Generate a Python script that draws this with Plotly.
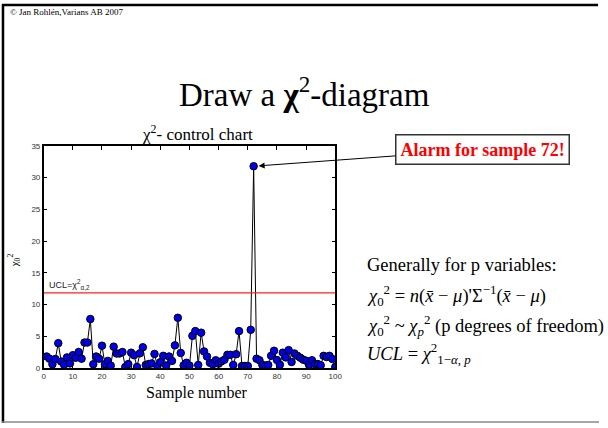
import plotly.graph_objects as go

samples = list(range(1, 101))
chi2_values = [
    1.8, 1.45, 0.57, 1.4, 3.9, 1.0, 0.5, 1.65, 0.7, 2.0,
    1.6, 2.5, 1.45, 4.0, 4.0, 7.7, 0.57, 1.8, 1.45, 3.5,
    0.57, 1.1, 0.36, 3.35, 2.27, 2.27, 2.5, 0.15, 0.6, 2.4,
    2.0, 0.15, 2.3, 3.25, 0.46, 0.6, 0.7, 2.2, 0.26, 0.9,
    1.9, 0.36, 1.8, 1.1, 3.55, 7.9, 2.35, 0.4, 0.8, 0.36,
    5.05, 5.8, 0.46, 5.55, 2.6, 1.8, 0.8, 0.57, 1.2, 0.67,
    1.03, 1.3, 2.06, 2.06, 0.46, 2.16, 5.8, 0.3, 0.3, 0.3,
    6.0, 31.8, 1.45, 1.2, 0.46, 0.36, 0.46, 1.9, 2.7, 1.24,
    0.5, 2.4, 1.65, 2.8, 0.93, 2.27, 1.9, 1.6, 1.3, 1.13,
    0.46, 1.2, 0.6, 0.6, 0.4, 1.9, 1.7, 1.9, 1.4, 0.15,
]
ucl_value = 11.83
alarm_sample = 72
x_ticks = list(range(0, 101, 10))
y_ticks = list(range(0, 36, 5))

W, H = 608, 428
x0, x1 = 42.3, 338.3
ytop, ybot = 145.0, 371.7

fig = go.Figure()
fig.add_trace(go.Scatter(
    x=samples, y=chi2_values, mode="lines+markers",
    line=dict(color="black", width=1),
    marker=dict(color="#0000ee", size=7.5, line=dict(color="black", width=1)),
    showlegend=False, hoverinfo="x+y",
))
fig.add_trace(go.Scatter(
    x=[0, 100], y=[ucl_value, ucl_value], mode="lines",
    line=dict(color="#ff2020", width=1.2), showlegend=False, hoverinfo="skip",
))

tickfont = dict(family="Liberation Sans, Arial", size=8, color="#333333")
fig.update_xaxes(
    domain=[x0 / W, x1 / W], range=[0, 100], tickvals=x_ticks,
    ticks="inside", ticklen=4, tickcolor="black", mirror="ticks",
    showline=True, linecolor="black", linewidth=1.5, showgrid=False,
    zeroline=False, tickfont=tickfont, anchor="y",
)
fig.update_yaxes(
    domain=[(H - ybot) / H, (H - ytop) / H], range=[0, 35], tickvals=y_ticks,
    ticks="inside", ticklen=4, tickcolor="black", mirror="ticks",
    showline=True, linecolor="black", linewidth=1.5, showgrid=False,
    zeroline=False, tickfont=tickfont, anchor="x",
)

serif = "Liberation Serif, Times New Roman, serif"
def px(x):
    return x / W
def py(y):
    return 1 - y / H

pt_x = x0 + (x1 - x0) * alarm_sample / 100
pt_y = ybot - (ybot - ytop) * chi2_values[alarm_sample - 1] / 35
box_cx, box_cy = 484, 149

ann = []
ann.append(dict(x=px(6), y=py(8), xref="paper", yref="paper", xanchor="left", yanchor="middle",
                text="© Jan Rohlén,Varians AB 2007", showarrow=False,
                font=dict(family=serif, size=9, color="black")))
ann.append(dict(x=px(307), y=py(90), xref="paper", yref="paper", xanchor="center", yanchor="middle",
                text="Draw a <b>χ</b><sup>2</sup>-diagram", showarrow=False,
                font=dict(family=serif, size=33, color="black")))
ann.append(dict(x=px(198), y=py(132), xref="paper", yref="paper", xanchor="center", yanchor="middle",
                text="χ<sup>2</sup>- control chart", showarrow=False,
                font=dict(family=serif, size=17, color="black")))
ann.append(dict(x=px(198), y=py(397), xref="paper", yref="paper", xanchor="center", yanchor="middle",
                text="Sample number", showarrow=False,
                font=dict(family=serif, size=16, color="black")))
ann.append(dict(x=px(13), y=py(262), xref="paper", yref="paper", xanchor="center", yanchor="middle",
                text="χ<sub>0</sub><sup>2</sup>", showarrow=False, textangle=-90,
                font=dict(family=serif, size=11, color="black")))
ann.append(dict(x=1, y=ucl_value, xref="x", yref="y", xanchor="left", yanchor="bottom",
                text="UCL=χ<sup>2</sup><sub>α,2</sub>", showarrow=False,
                font=dict(family="Liberation Sans, Arial", size=9, color="#222222")))
ann.append(dict(x=alarm_sample, y=chi2_values[alarm_sample - 1],
                xref="x", yref="y", ax=box_cx - pt_x, ay=box_cy - pt_y,
                text="<b>Alarm for sample 72!</b>", showarrow=True, arrowhead=2, arrowsize=1.2,
                arrowwidth=1, arrowcolor="black", standoff=5,
                bordercolor="#333333", borderwidth=1.5, borderpad=4, bgcolor="white",
                font=dict(family=serif, size=18, color="#ff0000")))
fx = px(368)
fsize = 18.5
ann.append(dict(x=fx, y=py(267), xref="paper", yref="paper", xanchor="left", yanchor="middle",
                text="Generally for p variables:", showarrow=False,
                font=dict(family=serif, size=fsize, color="black")))
ann.append(dict(x=fx, y=py(298), xref="paper", yref="paper", xanchor="left", yanchor="middle",
                text="<i>χ</i><sub>0</sub><sup>2</sup> = <i>n</i>(<i>x̄</i> − <i>μ</i>)'Σ<sup>−1</sup>(<i>x̄</i> − <i>μ</i>)",
                showarrow=False, font=dict(family=serif, size=fsize, color="black")))
ann.append(dict(x=fx, y=py(328), xref="paper", yref="paper", xanchor="left", yanchor="middle",
                text="<i>χ</i><sub>0</sub><sup>2</sup> ~ <i>χ</i><sub><i>p</i></sub><sup>2</sup> (p degrees of freedom)",
                showarrow=False, font=dict(family=serif, size=fsize, color="black")))
ann.append(dict(x=fx, y=py(357), xref="paper", yref="paper", xanchor="left", yanchor="middle",
                text="<i>UCL</i> = <i>χ</i><sup>2</sup><sub>1−<i>α</i>, <i>p</i></sub>",
                showarrow=False, font=dict(family=serif, size=fsize, color="black")))

shapes = [
    dict(type="line", xref="paper", yref="paper", x0=px(1), x1=px(1), y0=0, y1=1,
         line=dict(color="black", width=2.5)),
    dict(type="line", xref="paper", yref="paper", x0=0, x1=px(605), y0=py(1), y1=py(1),
         line=dict(color="black", width=2.5)),
    dict(type="line", xref="paper", yref="paper", x0=0, x1=px(606), y0=py(427), y1=py(427),
         line=dict(color="#888888", width=1.5)),
]

fig.update_layout(
    width=W, height=H, margin=dict(l=0, r=0, t=0, b=0),
    paper_bgcolor="white", plot_bgcolor="white",
    annotations=ann, shapes=shapes,
)
fig.write_html("out.html")
